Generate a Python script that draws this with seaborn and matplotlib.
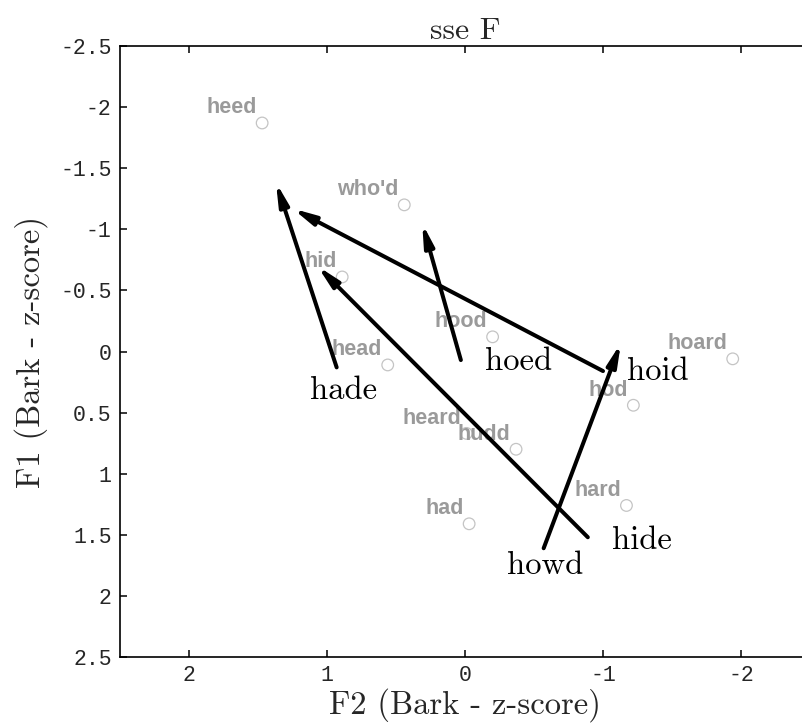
import matplotlib
matplotlib.use("Agg")
import matplotlib.pyplot as plt
from matplotlib.patches import ArrowStyle, FancyArrowPatch
import seaborn as sns
import pandas as pd

# =======================
# DADOS
# =======================

# monophthongs (grey circles)
vowels = ["heed", "who'd", "hid", "hood", "head", "hoard", "hod", "heard", "hudd", "hard", "had"]
vowel_f2 = [1.47, 0.44, 0.89, -0.20, 0.56, -1.94, -1.22, -0.01, -0.37, -1.17, -0.03]
vowel_f1 = [-1.87, -1.20, -0.61, -0.12, 0.11, 0.06, 0.44, 0.67, 0.80, 1.26, 1.41]

# diphthongs (black arrows)
diphthongs = ["hade", "hoed", "hoid", "hide", "howd"]
start_f2 = [0.93, 0.03, -1.00, -0.89, -0.57]
start_f1 = [0.13, 0.07, 0.16, 1.52, 1.61]
end_f2 = [1.37, 0.31, 1.25, 1.07, -1.13]
end_f1 = [-1.385, -1.05, -1.17, -0.70, -0.07]
label_f2 = [0.88, -0.39, -1.40, -1.28, -0.58]
label_f1 = [0.32, 0.08, 0.16, 1.55, 1.75]

x_ticks = [2, 1, 0, -1, -2]
x_ticklabels = ["2", "1", "0", "-1", "-2"]
y_ticks = [-2.5, -2, -1.5, -1, -0.5, 0, 0.5, 1, 1.5, 2, 2.5]
y_ticklabels = ["-2.5", "-2", "-1.5", "-1", "-0.5", "0", "0.5", "1", "1.5", "2", "2.5"]

df = pd.DataFrame({"vowel": vowels, "F2": vowel_f2, "F1": vowel_f1})

# =======================
# ESTILO
# =======================

sns.set_style("white")
serif = ["cmr10", "DejaVu Serif"]
mono = ["Liberation Mono", "DejaVu Sans Mono"]

fig = plt.figure(figsize=(8.02, 7.26), dpi=100)
ax = fig.add_axes([120 / 802, 69 / 726, 690 / 802, 611 / 726])

# =======================
# GRAFICO
# =======================

sns.scatterplot(data=df, x="F2", y="F1", ax=ax, s=70, marker="o", legend=False)
pts = ax.collections[0]
pts.set_facecolor("none")
pts.set_edgecolor("#c4c4c4")
pts.set_linewidth(0.9)

for v, x, y in zip(df["vowel"], df["F2"], df["F1"]):
    ax.annotate(v, (x, y), xytext=(-4, 7), textcoords="offset points",
                ha="right", va="baseline", fontsize=15.5, fontweight="bold",
                color="#9a9a9a", family=["Liberation Sans", "DejaVu Sans"])

# flechas por cima dos rótulos cinza
head = ArrowStyle("-|>", head_length=0.65, head_width=0.14)
for i in range(len(diphthongs)):
    seta = FancyArrowPatch((start_f2[i], start_f1[i]), (end_f2[i], end_f1[i]),
                           arrowstyle=head, mutation_scale=20, lw=2.9,
                           color="black", shrinkA=0, shrinkB=0, zorder=4)
    ax.add_patch(seta)
    ax.text(label_f2[i], label_f1[i], diphthongs[i], ha="center", va="center",
            fontsize=23.5, family=serif, color="black")

ax.set_xlim(2.5, -2.5)
ax.set_ylim(2.5, -2.5)
ax.set_xticks(x_ticks)
ax.set_xticklabels(x_ticklabels, family=mono, fontsize=15.5)
ax.set_yticks(y_ticks)
ax.set_yticklabels(y_ticklabels, family=mono, fontsize=15.5)
ax.tick_params(direction="in", length=5, width=1.1, color="black",
               top=True, right=True, left=True, bottom=True)
ax.tick_params(axis="x", pad=6)
ax.tick_params(axis="y", pad=6)

for s in ax.spines.values():
    s.set_color("black")
    s.set_linewidth(1.2)

ax.set_xlabel("F2 (Bark - z-score)", family=serif, fontsize=23.5)
ax.set_ylabel("F1 (Bark - z-score)", family=serif, fontsize=23.5)
ax.xaxis.set_label_coords(0.5, -0.05)
ax.yaxis.set_label_coords(-0.105, 0.5)
ax.set_title("sse F", family=serif, fontsize=23, pad=5)

fig.savefig("out.png", dpi=100)
